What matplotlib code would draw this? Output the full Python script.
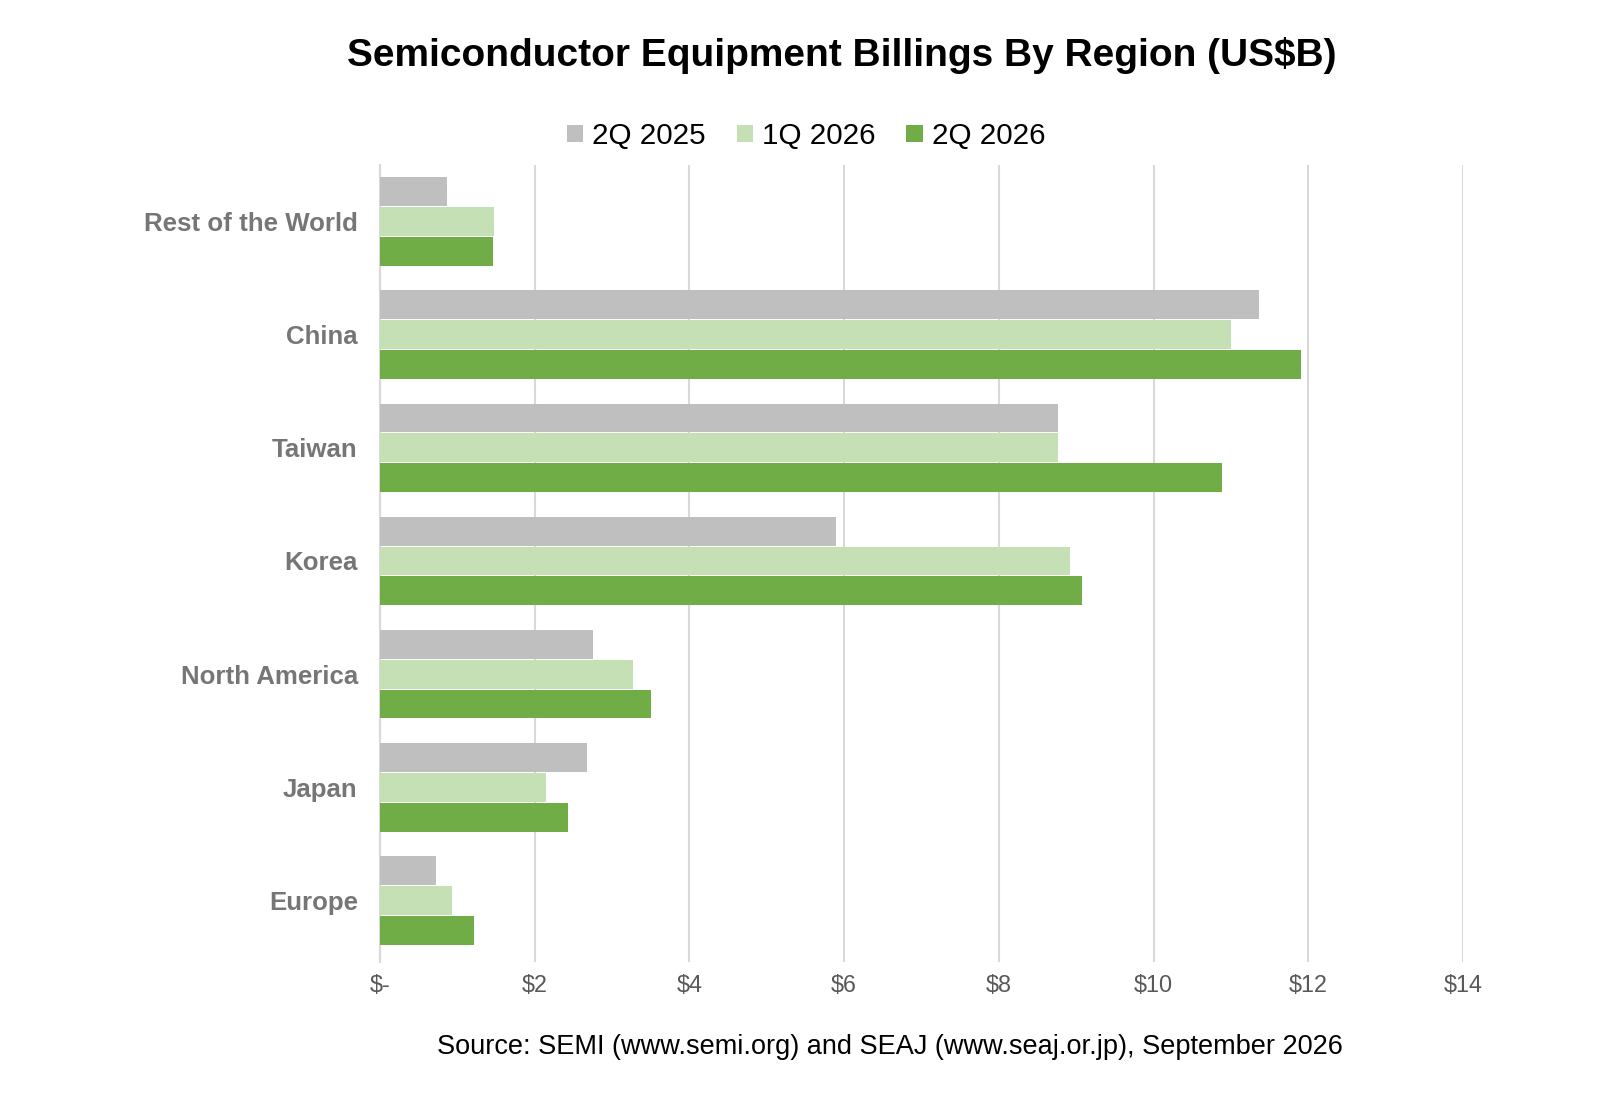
import numpy as np
import matplotlib.pyplot as plt

plt.rcParams['font.family'] = ['Liberation Sans', 'DejaVu Sans']

regions = ['Europe', 'Japan', 'North America', 'Korea', 'Taiwan', 'China', 'Rest of the World']
q2_2025 = [0.72, 2.67, 2.75, 5.90, 8.76, 11.36, 0.86]
q1_2026 = [0.93, 2.14, 3.27, 8.92, 8.76, 11.00, 1.48]
q2_2026 = [1.22, 2.43, 3.50, 9.08, 10.89, 11.91, 1.46]
series = ['2Q 2025', '1Q 2026', '2Q 2026']
colors = ['#BFBFBF', '#C5E0B4', '#70AD47']
xticks = [0, 2, 4, 6, 8, 10, 12, 14]
xlabels = ['$-', '$2', '$4', '$6', '$8', '$10', '$12', '$14']

W, H = 1612, 1093
fig = plt.figure(figsize=(W/100, H/100), dpi=100)
ax = fig.add_axes([380/W, 1-962/H, (1463-380)/W, (962-165)/H])

y = np.arange(len(regions))
h = 0.255
off = 0.264
for i, (vals, name, c) in enumerate(zip([q2_2025, q1_2026, q2_2026], series, colors)):
    ax.barh(y + off*(1-i), vals, height=h, color=c, label=name, zorder=3)

ax.set_xlim(0, 14)
ax.set_ylim(-0.545, 6.5)
ax.set_xticks(xticks)
ax.set_xticklabels(xlabels, fontsize=16.8, color='#595959')
ax.set_yticks(y)
ax.set_yticklabels(regions, fontsize=18.6, fontweight='bold', color='#767676')
ax.tick_params(axis='x', length=0, pad=9)
ax.tick_params(axis='y', length=0, pad=16)
ax.grid(axis='x', color='#D9D9D9', linewidth=1.5, zorder=0)
for s in ['top', 'right', 'bottom']:
    ax.spines[s].set_visible(False)
ax.spines['left'].set_color('#D9D9D9')
ax.spines['left'].set_linewidth(1.5)

fig.text(842/W, 1-56/H, 'Semiconductor Equipment Billings By Region (US$B)',
         ha='center', va='center', fontsize=28, fontweight='bold', color='black')
fig.legend(loc='center', bbox_to_anchor=(806/W, 1-136/H), ncol=3, frameon=False,
           fontsize=21.3, handlelength=0.55, handleheight=0.55, handletextpad=0.3,
           columnspacing=1.05)
fig.text(890/W, 1-1047/H, 'Source: SEMI (www.semi.org) and SEAJ (www.seaj.or.jp), September 2026',
         ha='center', va='center', fontsize=19.5, color='black')

fig.savefig('out.png', dpi=100, facecolor='white')
